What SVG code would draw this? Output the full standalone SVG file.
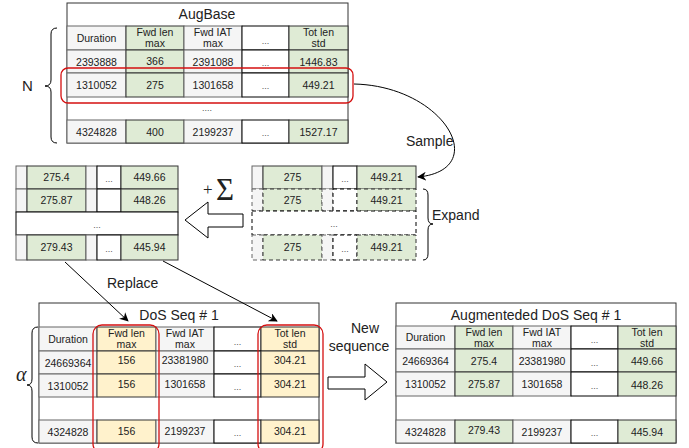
<svg xmlns="http://www.w3.org/2000/svg" width="689" height="448" viewBox="0 0 689 448">
<style>
.g{fill:#f5f5f5;stroke:#666;stroke-width:1}
.gr{fill:#dfebd5;stroke:#333;stroke-width:1}
.w{fill:#fff;stroke:#000;stroke-width:1}
.y{fill:#fff2cc;stroke:#333;stroke-width:1}
.o{fill:#fff;stroke:#333;stroke-width:1}
.d{stroke-dasharray:4 3}
text{font-family:"Liberation Sans",Arial,sans-serif;fill:#222}
.t{font-size:10.5px;text-anchor:middle}
.e{font-size:9px;text-anchor:middle;fill:#555}
.h{font-size:14px;text-anchor:middle}
.l{font-size:14px}
.red{fill:none;stroke:#d51010;stroke-width:1.3}
.c{fill:none;stroke:#000;stroke-width:1}
.hol{fill:#fff;stroke:#000;stroke-width:1}
</style>
<defs>
<marker id="ah" viewBox="0 0 10 10" refX="9" refY="5" markerWidth="9" markerHeight="9" orient="auto" markerUnits="userSpaceOnUse">
<path d="M0,0 L10,5 L0,10 L3,5 Z" fill="#000"/>
</marker>
</defs>

<g id="augbase">
<rect class="o" x="67" y="3" width="281" height="140"/>
<text class="h" x="207" y="19">AugBase</text>
<rect class="g" x="67" y="26" width="59" height="24"/><rect class="gr" x="126" y="26" width="58" height="24"/><rect class="g" x="184" y="26" width="58" height="24"/><rect class="w" x="242" y="26" width="47" height="24"/><rect class="gr" x="289" y="26" width="59" height="24"/>
<rect class="g" x="67" y="50" width="59" height="23"/><rect class="gr" x="126" y="50" width="58" height="23"/><rect class="g" x="184" y="50" width="58" height="23"/><rect class="w" x="242" y="50" width="47" height="23"/><rect class="gr" x="289" y="50" width="59" height="23"/>
<rect class="g" x="67" y="73" width="59" height="24"/><rect class="gr" x="126" y="73" width="58" height="24"/><rect class="g" x="184" y="73" width="58" height="24"/><rect class="w" x="242" y="73" width="47" height="24"/><rect class="gr" x="289" y="73" width="59" height="24"/>
<rect class="g" x="67" y="120" width="59" height="23"/><rect class="gr" x="126" y="120" width="58" height="23"/><rect class="g" x="184" y="120" width="58" height="23"/><rect class="w" x="242" y="120" width="47" height="23"/><rect class="gr" x="289" y="120" width="59" height="23"/>
<text class="t" x="96.5" y="42">Duration</text>
<text class="t" x="155" y="36">Fwd len</text><text class="t" x="155" y="47">max</text>
<text class="t" x="213" y="36">Fwd IAT</text><text class="t" x="213" y="47">max</text>
<text class="e" x="265.5" y="44">...</text>
<text class="t" x="318.5" y="36">Tot len</text><text class="t" x="318.5" y="47">std</text>
<text class="t" x="96.5" y="66">2393888</text><text class="t" x="155" y="65">366</text><text class="t" x="213" y="66">2391088</text><text class="e" x="265.5" y="66">...</text><text class="t" x="318.5" y="66">1446.83</text>
<text class="t" x="96.5" y="89">1310052</text><text class="t" x="155" y="89">275</text><text class="t" x="213" y="89">1301658</text><text class="e" x="265.5" y="89">...</text><text class="t" x="318.5" y="89">449.21</text>
<text class="e" x="207" y="111">....</text>
<text class="t" x="96.5" y="136">4324828</text><text class="t" x="155" y="136">400</text><text class="t" x="213" y="136">2199237</text><text class="e" x="265.5" y="136">...</text><text class="t" x="318.5" y="136">1527.17</text>
<rect class="red" x="61" y="68" width="292" height="35" rx="7"/>
</g>

<g id="n-brace">
<path class="c" d="M57,28 Q51,28 51,34 L51,80 Q51,86 45,86 Q51,86 51,92 L51,137 Q51,143 57,143"/>
<text class="l" x="22" y="91" style="font-size:15px">N</text>
</g>

<g id="sampled">
<rect class="g" x="252" y="166" width="11" height="23"/><rect class="gr" x="263" y="166" width="59" height="23"/><rect class="g" x="322" y="166" width="11" height="23"/><rect class="w" x="333" y="166" width="24" height="23"/><rect class="gr" x="357" y="166" width="59" height="23"/>
<g class="d">
<rect class="g d" x="252" y="189" width="11" height="22"/><rect class="gr d" x="263" y="189" width="59" height="22"/><rect class="g d" x="322" y="189" width="11" height="22"/><rect class="w d" x="333" y="189" width="24" height="22"/><rect class="gr d" x="357" y="189" width="59" height="22"/>
<rect class="w d" x="252" y="211" width="164" height="24"/>
<rect class="g d" x="252" y="235" width="11" height="25"/><rect class="gr d" x="263" y="235" width="59" height="25"/><rect class="g d" x="322" y="235" width="11" height="25"/><rect class="w d" x="333" y="235" width="24" height="25"/><rect class="gr d" x="357" y="235" width="59" height="25"/>
</g>
<text class="t" x="292.5" y="181">275</text><text class="e" x="345" y="182">...</text><text class="t" x="386.5" y="181">449.21</text>
<text class="t" x="292.5" y="204">275</text><text class="t" x="386.5" y="204">449.21</text>
<text class="e" x="334" y="227">...</text>
<text class="t" x="292.5" y="251">275</text><text class="e" x="345" y="252">...</text><text class="t" x="386.5" y="251">449.21</text>
</g>

<g id="expand">
<path class="c" d="M423,189 Q428,189 428,195 L428,218 Q428,224 433,224 Q428,224 428,230 L428,254 Q428,260 423,260"/>
<text class="l" x="432" y="220">Expand</text>
</g>

<g id="sum">
<text x="203" y="195" style="font-size:17px;font-family:'Liberation Serif',serif">+</text>
<text x="216" y="200" style="font-size:31px;font-family:'Liberation Serif',serif">Σ</text>
</g>

<g id="noisy">
<rect class="g" x="16" y="166" width="11" height="23"/><rect class="gr" x="27" y="166" width="59" height="23"/><rect class="g" x="86" y="166" width="11" height="23"/><rect class="w" x="97" y="166" width="24" height="23"/><rect class="gr" x="121" y="166" width="57" height="23"/>
<rect class="g" x="16" y="189" width="11" height="23"/><rect class="gr" x="27" y="189" width="59" height="23"/><rect class="g" x="86" y="189" width="11" height="23"/><rect class="w" x="97" y="189" width="24" height="23"/><rect class="gr" x="121" y="189" width="57" height="23"/>
<rect class="w" x="16" y="212" width="162" height="23"/>
<rect class="g" x="16" y="235" width="11" height="25"/><rect class="gr" x="27" y="235" width="59" height="25"/><rect class="g" x="86" y="235" width="11" height="25"/><rect class="w" x="97" y="235" width="24" height="25"/><rect class="gr" x="121" y="235" width="57" height="25"/>
<text class="t" x="56.5" y="181">275.4</text><text class="e" x="109" y="182">...</text><text class="t" x="149.5" y="181">449.66</text>
<text class="t" x="56.5" y="204">275.87</text><text class="t" x="149.5" y="204">448.26</text>
<text class="e" x="97" y="228">...</text>
<text class="t" x="56.5" y="251">279.43</text><text class="e" x="109" y="252">...</text><text class="t" x="149.5" y="251">445.94</text>
</g>

<g id="dos">
<rect class="o" x="39" y="303" width="280" height="140"/>
<text class="h" x="179" y="320">DoS Seq # 1</text>
<rect class="g" x="39" y="327" width="58" height="24"/><rect class="y" x="97" y="327" width="59" height="24"/><rect class="g" x="156" y="327" width="58" height="24"/><rect class="w" x="214" y="327" width="47" height="24"/><rect class="y" x="261" y="327" width="58" height="24"/>
<rect class="g" x="39" y="351" width="58" height="23"/><rect class="y" x="97" y="351" width="59" height="23"/><rect class="g" x="156" y="351" width="58" height="23"/><rect class="w" x="214" y="351" width="47" height="23"/><rect class="y" x="261" y="351" width="58" height="23"/>
<rect class="g" x="39" y="374" width="58" height="23"/><rect class="y" x="97" y="374" width="59" height="23"/><rect class="g" x="156" y="374" width="58" height="23"/><rect class="w" x="214" y="374" width="47" height="23"/><rect class="y" x="261" y="374" width="58" height="23"/>
<rect class="g" x="39" y="420" width="58" height="23"/><rect class="y" x="97" y="420" width="59" height="23"/><rect class="g" x="156" y="420" width="58" height="23"/><rect class="w" x="214" y="420" width="47" height="23"/><rect class="y" x="261" y="420" width="58" height="23"/>
<text class="t" x="68" y="343">Duration</text>
<text class="t" x="126.5" y="337">Fwd len</text><text class="t" x="126.5" y="348">max</text>
<text class="t" x="185" y="337">Fwd IAT</text><text class="t" x="185" y="348">max</text>
<text class="e" x="237.5" y="345">...</text>
<text class="t" x="290" y="337">Tot len</text><text class="t" x="290" y="348">std</text>
<text class="t" x="68" y="367">24669364</text><text class="t" x="126.5" y="364">156</text><text class="t" x="185" y="364">23381980</text><text class="e" x="237.5" y="367">...</text><text class="t" x="290" y="364">304.21</text>
<text class="t" x="68" y="390">1310052</text><text class="t" x="126.5" y="388">156</text><text class="t" x="185" y="388">1301658</text><text class="e" x="237.5" y="390">...</text><text class="t" x="290" y="388">304.21</text>
<text class="t" x="68" y="436">4324828</text><text class="t" x="126.5" y="435">156</text><text class="t" x="185" y="435">2199237</text><text class="e" x="237.5" y="436">...</text><text class="t" x="290" y="435">304.21</text>
<rect class="red" x="93" y="325" width="66" height="128" rx="9"/>
<rect class="red" x="258" y="325" width="65" height="128" rx="9"/>
</g>

<g id="alpha-brace">
<path class="c" d="M38,327 Q32,327 32,333 L32,379 Q32,385 27,385 Q32,385 32,391 L32,437 Q32,443 38,443"/>
<text x="16" y="381" style="font-size:20px;font-style:italic;font-family:'Liberation Serif',serif">α</text>
</g>

<g id="augmented">
<rect class="o" x="396" y="303" width="280" height="140"/>
<text class="h" x="536" y="320">Augmenteded DoS Seq # 1</text>
<rect class="g" x="396" y="326" width="59" height="23"/><rect class="gr" x="455" y="326" width="58" height="23"/><rect class="g" x="513" y="326" width="58" height="23"/><rect class="w" x="571" y="326" width="47" height="23"/><rect class="gr" x="618" y="326" width="58" height="23"/>
<rect class="g" x="396" y="349" width="59" height="23"/><rect class="gr" x="455" y="349" width="58" height="23"/><rect class="g" x="513" y="349" width="58" height="23"/><rect class="w" x="571" y="349" width="47" height="23"/><rect class="gr" x="618" y="349" width="58" height="23"/>
<rect class="g" x="396" y="372" width="59" height="24"/><rect class="gr" x="455" y="372" width="58" height="24"/><rect class="g" x="513" y="372" width="58" height="24"/><rect class="w" x="571" y="372" width="47" height="24"/><rect class="gr" x="618" y="372" width="58" height="24"/>
<rect class="g" x="396" y="420" width="59" height="23"/><rect class="gr" x="455" y="420" width="58" height="23"/><rect class="g" x="513" y="420" width="58" height="23"/><rect class="w" x="571" y="420" width="47" height="23"/><rect class="gr" x="618" y="420" width="58" height="23"/>
<text class="t" x="425.5" y="341">Duration</text>
<text class="t" x="484" y="336">Fwd len</text><text class="t" x="484" y="347">max</text>
<text class="t" x="542" y="336">Fwd IAT</text><text class="t" x="542" y="347">max</text>
<text class="e" x="594.5" y="343">...</text>
<text class="t" x="647" y="336">Tot len</text><text class="t" x="647" y="347">std</text>
<text class="t" x="425.5" y="365">24669364</text><text class="t" x="484" y="365">275.4</text><text class="t" x="542" y="365">23381980</text><text class="e" x="594.5" y="366">...</text><text class="t" x="647" y="365">449.66</text>
<text class="t" x="425.5" y="388">1310052</text><text class="t" x="484" y="388">275.87</text><text class="t" x="542" y="388">1301658</text><text class="e" x="594.5" y="389">...</text><text class="t" x="647" y="389">448.26</text>
<text class="t" x="425.5" y="436">4324828</text><text class="t" x="484" y="434">279.43</text><text class="t" x="542" y="436">2199237</text><text class="e" x="594.5" y="436">...</text><text class="t" x="647" y="436">445.94</text>
</g>

<g id="connectors">
<path class="c" d="M354,84 C445,86 492,170 418,177" marker-end="url(#ah)"/>
<path class="c" d="M65,262 L128,321" marker-end="url(#ah)"/>
<path class="c" d="M163,261 L277,321" marker-end="url(#ah)"/>
<polygon class="hol" points="185,220 208,202 208,214 243,214 243,227 208,227 208,238"/>
<polygon class="hol" points="387,382 365,364 365,377 328,377 328,389 365,389 365,400"/>
<text class="l" x="406" y="146">Sample</text>
<text class="l" x="107" y="288">Replace</text>
<text class="l" x="365" y="333" text-anchor="middle">New</text>
<text class="l" x="359" y="351" text-anchor="middle">sequence</text>
</g>
</svg>
